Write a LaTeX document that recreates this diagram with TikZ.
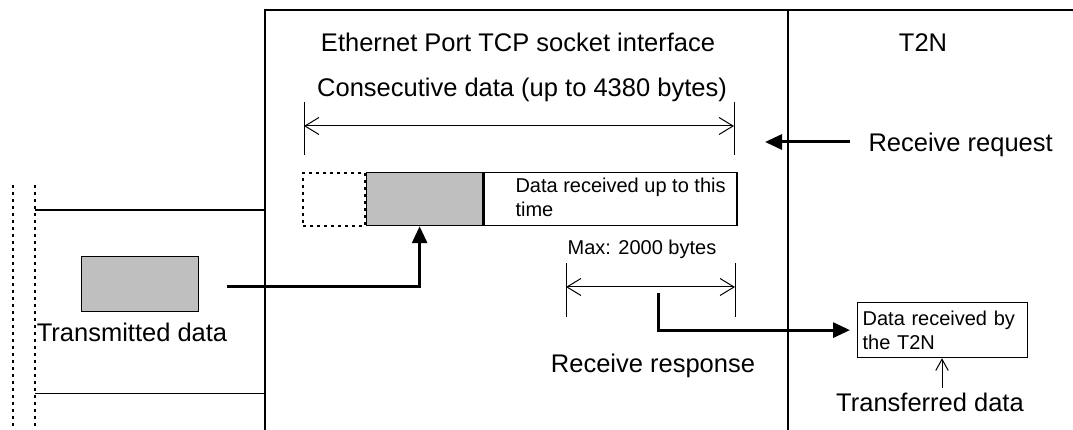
\documentclass[tikz,border=0pt]{standalone}
\usepackage{fontspec}
\setmainfont{Liberation Sans}
\usetikzlibrary{arrows.meta,positioning}

\begin{document}
\begin{tikzpicture}[
    x=0.4pt, y=-0.4pt,
    >=Stealth,
    frame/.style={draw=black, line width=0.5pt},
    dots/.style={line width=0.9pt, dash pattern=on 1.1pt off 1.7pt},
    tick/.style={line width=0.4pt},
    bigtext/.style={font=\fontsize{10.2}{12.2}\selectfont, inner sep=0pt},
    smalltext/.style={font=\fontsize{8}{9.6}\selectfont, inner sep=0pt},
    block/.style={rectangle, draw=black, line width=0.5pt, inner sep=0pt, minimum height=21.2pt, anchor=north west},
    dimarrow/.style={{Straight Barb[length=5.6pt,width=6.8pt]}-{Straight Barb[length=5.6pt,width=6.8pt]}, line width=0.4pt},
    flow/.style={-{Triangle[length=6.8pt,width=6pt]}, line width=1.2pt},
    thinarrow/.style={-{Straight Barb[length=4.5pt,width=5pt]}, line width=0.4pt}
]
\useasboundingbox (0,0) rectangle (1073,430);
% ---------- frame ----------
\draw[frame] (265,430) -- (265,10) -- (1073,10);
\draw[frame] (788,10) -- (788,430);
\draw[dots] (13,185) -- (13,430);
\draw[dots] (35,185) -- (35,430);
\draw[frame] (35,210) -- (265,210);
\draw[tick] (35,394) -- (265,394);
% ---------- headings ----------
\node[bigtext, anchor=base] (tcp)    at (518,52) {Ethernet Port TCP socket interface};
\node[bigtext, anchor=base] (t2n)    at (923,52) {T2N};
\node[bigtext, anchor=base] (consec) at (522,97) {Consecutive data (up to 4380 bytes)};
\coordinate (consecL) at (304,126);
\coordinate (consecR) at (734,126);
\draw[tick] (304,102) -- (304,155);
\draw[tick] (734,102) -- (734,155);
\draw[dimarrow] (consecL) -- (consecR);
% ---------- receive buffer ----------
\node[block, fill=gray!50, minimum width=46.4pt] (newdata) at (366,172) {};
\node[block, minimum width=101.2pt] (recvd) at (newdata.north east) {};
\node[block, dots, minimum width=24.8pt, anchor=north east] (olddata) at (newdata.north west) {};
\node[smalltext, align=left, anchor=north west] (recvdtxt) at (515,178) {Data received up to this\\time};
% ---------- transmitting side ----------
\node[block, fill=gray!50, minimum width=46.8pt, minimum height=22pt] (txdata) at (81,256) {};
\node[bigtext, anchor=base] (txlabel) at (132,342) {Transmitted data};
\coordinate (txout) at (227,287);
\draw[flow] (txout) -| ([xshift=-2pt]newdata.south);
% ---------- receive request ----------
\coordinate (reqstart) at (850,142);
\coordinate (reqend) at (765,142);
\draw[flow] (reqstart) -- (reqend);
\node[bigtext, anchor=base west] (reqlabel) at (868,152) {Receive request};
% ---------- receive response ----------
\node[smalltext, anchor=base] (maxlabel) at (642,255) {Max: 2000 bytes};
\coordinate (maxL) at (566,287);
\coordinate (maxR) at (735,287);
\draw[tick] (566,263) -- (566,317);
\draw[tick] (735,263) -- (735,317);
\draw[dimarrow] (maxL) -- (maxR);
\node[rectangle, draw=black, line width=0.5pt, anchor=north west, smalltext, inner xsep=2pt,
      text width=64pt, minimum height=22pt, align=left] (t2nbox) at (857,302) {Data received by\\the T2N};
\coordinate (respout) at (658,293);
\draw[flow, shorten >=2.8pt] (respout) |- (t2nbox.west);
\node[bigtext, anchor=base] (resplabel) at (653,373) {Receive response};
% ---------- transferred data ----------
\node[bigtext, anchor=base] (xferlabel) at (930,412) {Transferred data};
\draw[thinarrow, shorten <=2pt] ([xshift=4.8pt]xferlabel.north) -- ([xshift=4.8pt]xferlabel.north |- t2nbox.south);
\end{tikzpicture}
\end{document}
